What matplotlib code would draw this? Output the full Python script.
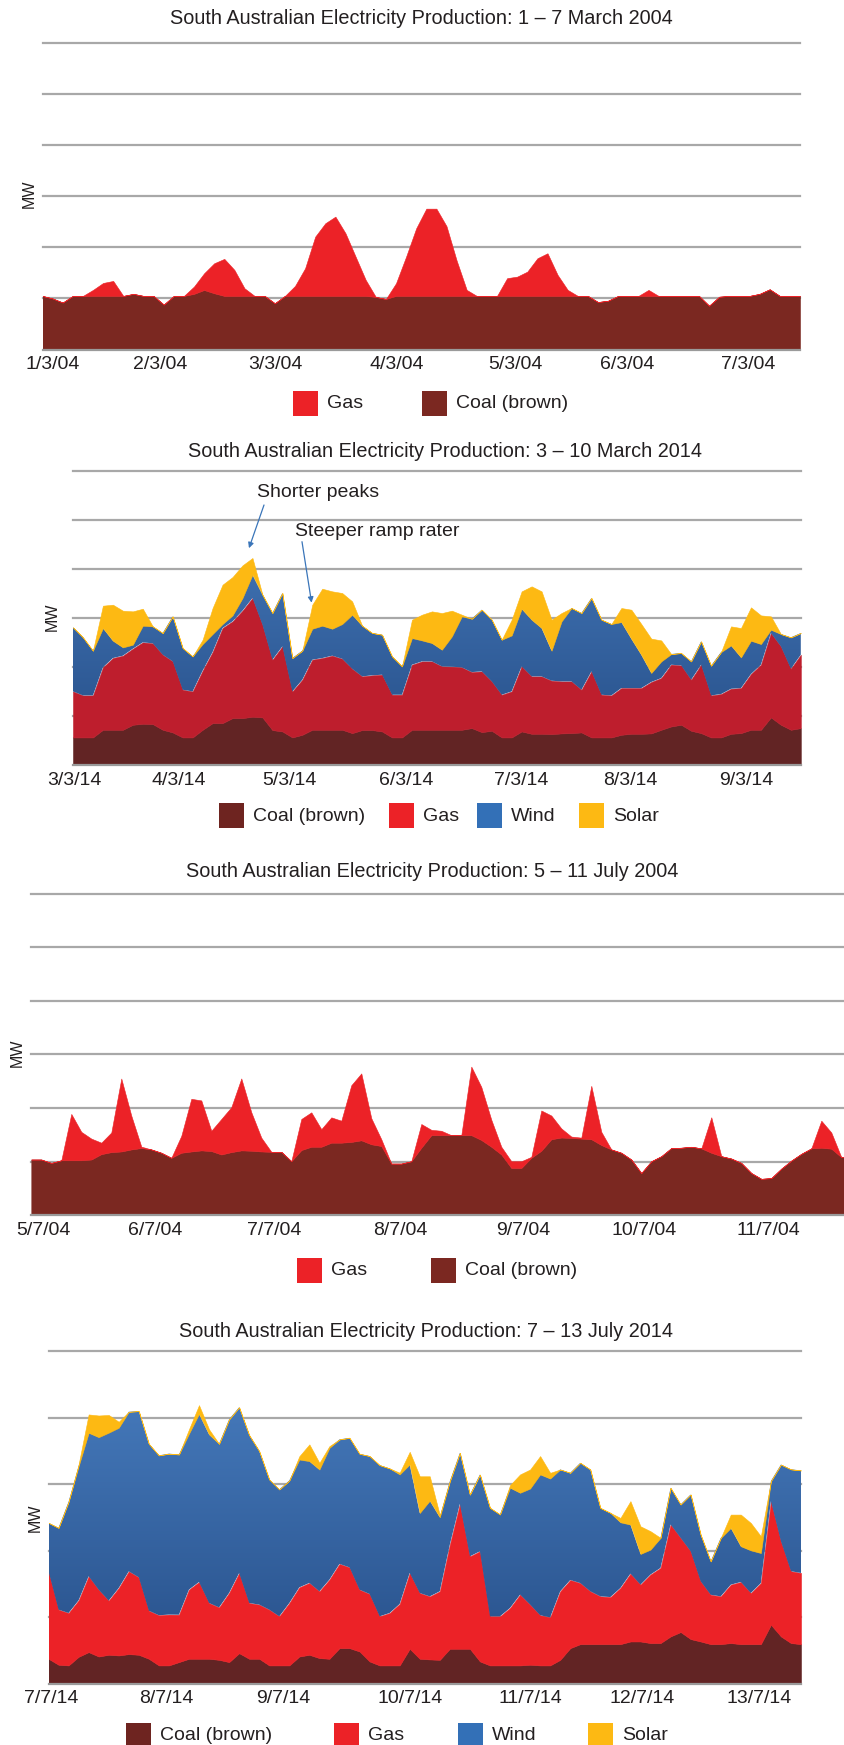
import numpy as np
import matplotlib.pyplot as plt
from matplotlib.colors import LinearSegmentedColormap
from matplotlib.patches import Rectangle

plt.rcParams['font.family'] = ['Liberation Sans', 'DejaVu Sans']

# ---- 1-7 March 2004 (MW, one sample every ~2 h) ----
mar04_tick_pos = [1.0, 11.7, 23.1, 35.1, 46.8, 57.9, 69.9]
mar04_labels = ['1/3/04', '2/3/04', '3/3/04', '4/3/04', '5/3/04', '6/3/04', '7/3/04']
mar04_coal = [525, 500, 460, 525, 525, 525, 525, 525, 525, 545,
              525, 525, 440, 525, 525, 545, 583, 551, 525, 525,
              525, 525, 525, 453, 525, 525, 525, 525, 525, 525,
              525, 525, 525, 515, 495, 525, 525, 525, 525, 525,
              525, 525, 525, 525, 525, 525, 525, 525, 525, 525,
              525, 525, 525, 525, 525, 465, 478, 525, 525, 525,
              525, 525, 525, 525, 525, 525, 429, 517, 525, 525,
              525, 545, 590, 525, 525, 525]
mar04_gas = [0, 0, 0, 0, 0, 59, 127, 147, 0, 0,
             0, 0, 0, 0, 0, 72, 164, 294, 363, 255,
             75, 0, 0, 0, 0, 98, 271, 581, 712, 777,
             614, 385, 157, 0, 0, 124, 385, 663, 855, 855,
             684, 348, 59, 0, 0, 0, 174, 189, 238, 369,
             418, 206, 59, 0, 0, 0, 0, 0, 0, 0,
             59, 0, 0, 0, 0, 0, 0, 0, 0, 0,
             0, 0, 0, 0, 0, 0]

# ---- 3-10 March 2014 ----
mar14_tick_pos = [0.1, 10.65, 21.75, 33.45, 45.0, 55.85, 67.55]
mar14_labels = ['3/3/14', '4/3/14', '5/3/14', '6/3/14', '7/3/14', '8/3/14', '9/3/14']
mar14_coal = [279, 279, 279, 357, 357, 357, 408, 418, 415, 357,
              330, 279, 279, 357, 425, 425, 476, 476, 490, 483,
              354, 340, 279, 306, 357, 357, 357, 357, 323, 354,
              354, 340, 279, 279, 357, 357, 357, 357, 357, 357,
              374, 333, 347, 279, 279, 340, 316, 316, 313, 320,
              323, 330, 279, 279, 279, 306, 316, 316, 320, 357,
              391, 408, 347, 323, 279, 279, 316, 323, 357, 357,
              483, 408, 357, 374]
mar14_gas = [469, 428, 428, 636, 731, 755, 775, 830, 823, 765,
             724, 486, 469, 602, 724, 969, 986, 1095, 1210, 945,
             717, 867, 469, 561, 714, 731, 755, 724, 656, 547,
             558, 578, 435, 435, 663, 697, 697, 646, 643, 636,
             571, 619, 503, 435, 469, 663, 585, 585, 544, 530,
             527, 435, 673, 435, 428, 476, 466, 466, 524, 527,
             629, 605, 520, 697, 428, 442, 459, 459, 568, 663,
             860, 799, 622, 748]
mar14_wind = [653, 592, 456, 401, 177, 85, 41, 170, 173, 221,
              459, 425, 357, 272, 184, 41, 61, 129, 238, 306,
              476, 544, 340, 296, 316, 330, 275, 354, 551, 517,
              432, 408, 391, 289, 272, 214, 187, 170, 309, 520,
              544, 629, 629, 561, 571, 588, 578, 493, 306, 612,
              748, 782, 748, 765, 728, 673, 503, 340, 92, 170,
              109, 126, 187, 238, 303, 428, 442, 313, 340, 211,
              34, 126, 320, 221]
mar14_solar = [0, 0, 0, 228, 367, 374, 340, 173, 0, 0,
               0, 0, 0, 44, 265, 401, 391, 333, 170, 0,
               0, 0, 0, 0, 245, 377, 381, 316, 136, 0,
               0, 0, 0, 0, 187, 262, 323, 374, 262, 17,
               0, 0, 0, 0, 160, 177, 340, 374, 316, 85,
               0, 0, 0, 0, 0, 143, 296, 313, 350, 214,
               0, 0, 0, 0, 0, 0, 194, 299, 340, 292,
               136, 0, 0, 0]

# ---- 5-11 July 2004 ----
jul04_tick_pos = [1.17, 12.4, 24.3, 36.9, 49.2, 61.3, 73.7]
jul04_labels = ['5/7/04', '6/7/04', '7/7/04', '8/7/04', '9/7/04', '10/7/04', '11/7/04']
jul04_coal = [520, 520, 488, 513, 513, 513, 520, 570, 589, 595,
              614, 627, 614, 583, 536, 583, 595, 605, 599, 567,
              589, 605, 602, 595, 592, 592, 504, 608, 639, 639,
              677, 677, 684, 699, 662, 646, 482, 482, 504, 630,
              747, 747, 747, 747, 747, 702, 639, 567, 441, 441,
              536, 602, 709, 725, 721, 715, 709, 655, 614, 583,
              520, 394, 504, 551, 627, 630, 639, 624, 583, 551,
              529, 488, 394, 340, 347, 435, 510, 573, 624, 630,
              621, 542, 536]
jul04_gas = [0, 0, 0, 0, 432, 265, 195, 107, 183, 680,
             315, 13, 0, 0, 0, 158, 491, 466, 189, 331,
             419, 671, 359, 129, 0, 0, 0, 290, 321, 164,
             236, 205, 529, 624, 243, 63, 0, 0, 0, 221,
             50, 41, 0, 0, 639, 495, 252, 72, 63, 63,
             9, 375, 221, 85, 13, 9, 498, 123, 0, 0,
             0, 0, 0, 0, 0, 0, 0, 0, 331, 0,
             0, 0, 0, 0, 0, 0, 0, 0, 0, 252,
             151, 0, 0]

# ---- 7-13 July 2014 ----
jul14_tick_pos = [0.25, 11.76, 23.4, 36.0, 48.0, 59.2, 70.8]
jul14_labels = ['7/7/14', '8/7/14', '9/7/14', '10/7/14', '11/7/14', '12/7/14', '13/7/14']
jul14_coal = [186, 141, 136, 201, 236, 203, 216, 211, 221, 216,
              186, 136, 136, 161, 186, 186, 186, 178, 161, 228,
              186, 186, 136, 136, 136, 203, 216, 191, 186, 266,
              266, 241, 166, 136, 136, 136, 261, 186, 181, 178,
              261, 261, 261, 166, 136, 136, 136, 136, 141, 136,
              136, 178, 266, 296, 296, 296, 296, 296, 316, 316,
              304, 304, 354, 387, 334, 316, 296, 296, 304, 296,
              296, 296, 442, 354, 304, 296]
jul14_gas = [658, 414, 394, 424, 570, 502, 407, 507, 622, 582,
             361, 377, 382, 356, 520, 577, 419, 394, 520, 602,
             419, 407, 419, 369, 469, 520, 540, 502, 595, 633,
             607, 464, 507, 369, 394, 462, 570, 494, 474, 515,
             783, 1089, 695, 828, 369, 369, 432, 532, 452, 377,
             361, 515, 512, 459, 397, 359, 354, 422, 510, 427,
             515, 565, 841, 708, 660, 452, 371, 359, 439, 467,
             384, 459, 929, 715, 540, 535]
jul14_wind = [364, 615, 836, 1009, 1079, 1147, 1263, 1205, 1200, 1250,
              1255, 1202, 1210, 1205, 1172, 1265, 1268, 1230, 1305, 1247,
              1263, 1155, 979, 954, 921, 961, 916, 916, 991, 936,
              974, 1022, 1037, 1137, 1087, 974, 816, 602, 720, 557,
              477, 384, 464, 577, 816, 766, 904, 766, 873, 1059,
              1044, 916, 806, 904, 916, 665, 633, 494, 369, 231,
              188, 226, 276, 251, 427, 351, 251, 439, 427, 269,
              321, 226, 151, 577, 766, 771]
jul14_solar = [0, 0, 0, 13, 138, 163, 133, 45, 0, 0,
               0, 0, 0, 0, 33, 65, 38, 0, 0, 0,
               0, 0, 0, 0, 0, 25, 126, 50, 13, 0,
               0, 0, 0, 0, 0, 13, 95, 276, 183, 15,
               0, 0, 0, 0, 0, 0, 20, 138, 143, 138,
               43, 0, 0, 0, 0, 0, 0, 33, 176, 208,
               138, 0, 0, 0, 0, 0, 0, 0, 100, 238,
               206, 126, 0, 0, 0, 0]

W, H = 844, 1745
TEXT = '#231f20'
GRID = '#a8a8a8'
COAL_OLD, COAL_NEW = '#7b2821', '#622424'
GAS, GAS_DARK = '#ec2227', '#be1e2d'
WIND = ('#4a80c3', '#254d86')  # top, bottom of the gradient
SOLAR = '#fdb913'

fig = plt.figure(figsize=(W / 100, H / 100), dpi=100)


def add_axes_px(left, top, right, bottom):
    return fig.add_axes([left / W, 1 - bottom / H, (right - left) / W, (bottom - top) / H])


def fig_text(x, y, s, **kw):
    kw.setdefault('fontsize', 14)
    kw.setdefault('color', TEXT)
    return fig.text(x / W, 1 - y / H, s, **kw)


def legend_row(y, items):
    for label, color, x in items:
        fig.add_artist(Rectangle((x / W, 1 - (y + 12.5) / H), 25 / W, 25 / H,
                                 transform=fig.transFigure, facecolor=color, edgecolor='none'))
        fig_text(x + 34, y, label, ha='left', va='center')


def stacked(ax, layers, ymax, ticks, labels):
    n = len(layers[0][0])
    x = np.arange(n)
    ax.set_xlim(0, n - 1)
    ax.set_ylim(0, ymax)
    for v in range(500, ymax + 1, 500):
        ax.axhline(v, color=GRID, lw=1.6, zorder=0, clip_on=False)
    base = np.zeros(n)
    for z, (values, color) in enumerate(layers, start=1):
        top = base + np.asarray(values, dtype=float)
        if isinstance(color, tuple):
            poly = ax.fill_between(x, base, top, facecolor='none', lw=0, zorder=z)
            cmap = LinearSegmentedColormap.from_list('wind', [color[1], color[0]])
            im = ax.imshow(np.linspace(0, 1, 256).reshape(-1, 1), extent=[0, n - 1, 0, ymax],
                           origin='lower', aspect='auto', cmap=cmap, zorder=z)
            im.set_clip_path(poly.get_paths()[0], transform=ax.transData)
        else:
            ax.fill_between(x, base, top, facecolor=color, edgecolor=color, lw=0.4, zorder=z)
        base = top
    ax.axhline(0, color='#9a9a9a', lw=1.6, zorder=10, clip_on=False)
    ax.set_xlim(0, n - 1)
    ax.set_ylim(0, ymax)
    ax.set_xticks(ticks, labels)
    ax.set_yticks([])
    ax.tick_params(axis='x', length=0, pad=5, labelsize=14, labelcolor=TEXT)
    for s in ax.spines.values():
        s.set_visible(False)
    ax.patch.set_visible(False)


# panel 1
ax1 = add_axes_px(42.5, 43.3, 800, 349.5)
stacked(ax1, [(mar04_coal, COAL_OLD), (mar04_gas, GAS)], 3000, mar04_tick_pos, mar04_labels)
fig_text(421.6, 18.3, 'South Australian Electricity Production: 1 – 7 March 2004',
         ha='center', va='center', fontsize=14.3)
fig_text(29.5, 194, 'MW', rotation=90, ha='center', va='center', fontsize=11.5)
legend_row(403, [('Gas', GAS, 293), ('Coal (brown)', COAL_OLD, 422)])

# panel 2
ax2 = add_axes_px(73, 470.5, 800.8, 764.8)
stacked(ax2, [(mar14_coal, COAL_NEW), (mar14_gas, GAS_DARK), (mar14_wind, WIND), (mar14_solar, SOLAR)],
        3000, mar14_tick_pos, mar14_labels)
fig_text(445, 451.7, 'South Australian Electricity Production: 3 – 10 March 2014',
         ha='center', va='center', fontsize=14.3)
fig_text(52, 617, 'MW', rotation=90, ha='center', va='center', fontsize=11.5)
legend_row(816, [('Coal (brown)', '#6e2420', 219), ('Gas', GAS, 389),
                 ('Wind', '#3370b7', 477), ('Solar', SOLAR, 579)])
arrow = dict(arrowstyle='-|>', color='#3a75b9', lw=0.9, mutation_scale=8, shrinkA=0, shrinkB=0)
ax2.annotate('', xy=(17.65, 2208), xytext=(264, H - 505), textcoords='figure pixels', arrowprops=arrow)
ax2.annotate('', xy=(23.93, 1653), xytext=(302, H - 541.7), textcoords='figure pixels', arrowprops=arrow)
fig_text(318, 492.7, 'Shorter peaks', ha='center', va='center')
fig_text(295.4, 532, 'Steeper ramp rater', ha='left', va='center')

# panel 3 (runs past the right edge of the picture)
ax3 = add_axes_px(31.3, 893.5, 851.3, 1215.3)
stacked(ax3, [(jul04_coal, COAL_OLD), (jul04_gas, GAS)], 3000, jul04_tick_pos, jul04_labels)
fig_text(432.3, 871.7, 'South Australian Electricity Production: 5 – 11 July 2004',
         ha='center', va='center', fontsize=14.3)
fig_text(17, 1053, 'MW', rotation=90, ha='center', va='center', fontsize=11.5)
legend_row(1270.5, [('Gas', GAS, 297), ('Coal (brown)', COAL_OLD, 431)])

# panel 4
ax4 = add_axes_px(48.5, 1351, 801, 1683.5)
stacked(ax4, [(jul14_coal, COAL_NEW), (jul14_gas, GAS), (jul14_wind, WIND), (jul14_solar, SOLAR)],
        2500, jul14_tick_pos, jul14_labels)
fig_text(426.4, 1331.7, 'South Australian Electricity Production: 7 – 13 July 2014',
         ha='center', va='center', fontsize=14.3)
fig_text(35, 1518, 'MW', rotation=90, ha='center', va='center', fontsize=11.5)
legend_row(1735, [('Coal (brown)', '#6e2420', 126), ('Gas', GAS, 334),
                  ('Wind', '#3370b7', 458), ('Solar', SOLAR, 588)])

fig.savefig('out.png', dpi=100)
